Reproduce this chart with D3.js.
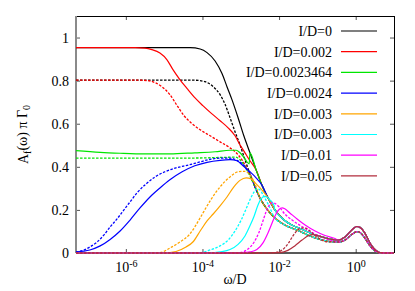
<!DOCTYPE html>
<html>
<head>
<meta charset="utf-8">
<script src="https://cdn.jsdelivr.net/npm/d3@7"></script>
<style>
  body { margin: 0; background: #fff; }
  svg text { font-family: "Liberation Serif", "DejaVu Serif", serif; fill: #000; }
  .tick line { stroke: #555; }
</style>
</head>
<body>
<div id="chart"></div>
<script>
// Data: [log10(omega/D), A_f(omega) pi Gamma_0]
const blackSolid = [[-7.30,0.953],[-4.32,0.953],[-4.06,0.947],[-3.88,0.930],[-3.67,0.891],[-3.49,0.833],[-3.36,0.772],[-3.23,0.712],[-3.07,0.628],[-2.92,0.544],[-2.76,0.465],[-2.60,0.386],[-2.45,0.316],[-2.29,0.256],[-2.11,0.200],[-1.90,0.158],[-1.67,0.130],[-1.45,0.114],[-1.19,0.093],[-0.93,0.077],[-0.67,0.065],[-0.46,0.060],[-0.28,0.074],[-0.15,0.098],[-0.045,0.116],[0.03,0.123],[0.11,0.119],[0.22,0.098],[0.32,0.065],[0.42,0.033],[0.53,0.012],[0.63,0.002],[0.76,0],[1.0,0]];
const blackDashed = [[-7.30,0.802],[-4.20,0.802],[-3.93,0.795],[-3.72,0.772],[-3.54,0.735],[-3.41,0.690],[-3.28,0.628],[-3.15,0.563],[-3.02,0.502],[-2.89,0.433],[-2.76,0.367],[-2.63,0.307],[-2.50,0.256],[-2.32,0.205],[-2.11,0.163],[-1.85,0.130],[-1.54,0.107],[-1.19,0.079],[-0.93,0.063],[-0.67,0.053],[-0.46,0.051],[-0.28,0.060],[-0.15,0.079],[-0.045,0.093],[0.03,0.099],[0.11,0.095],[0.22,0.074],[0.32,0.047],[0.42,0.023],[0.53,0.007],[0.63,0.001],[0.76,0],[1.0,0]];

const redSolid = [[-7.30,0.953],[-5.76,0.953],[-5.50,0.951],[-5.32,0.944],[-5.11,0.928],[-4.93,0.898],[-4.77,0.851],[-4.59,0.805],[-4.40,0.763],[-4.20,0.721],[-3.99,0.684],[-3.76,0.647],[-3.54,0.614],[-3.33,0.581],[-3.15,0.544],[-3.02,0.502],[-2.89,0.465],[-2.76,0.428]];
const redDashed = [[-7.30,0.802],[-5.63,0.802],[-5.42,0.800],[-5.24,0.791],[-5.06,0.772],[-4.85,0.735],[-4.66,0.684],[-4.48,0.637],[-4.27,0.600],[-4.06,0.572],[-3.80,0.544],[-3.54,0.516],[-3.28,0.488],[-3.07,0.456],[-2.89,0.409],[-2.76,0.363]];

const greenSolid = [[-7.30,0.475],[-6.67,0.467],[-6.15,0.463],[-5.50,0.460],[-4.85,0.460],[-4.20,0.465],[-3.67,0.470],[-3.28,0.477],[-3.12,0.477],[-3.02,0.465],[-2.91,0.442],[-2.78,0.414]];
const greenDashed = [[-7.30,0.440],[-5.37,0.440],[-4.06,0.441],[-3.41,0.444],[-3.15,0.445],[-3.02,0.433],[-2.89,0.400],[-2.76,0.358]];

const blueSolid = [[-7.30,0.005],[-6.94,0.014],[-6.67,0.033],[-6.41,0.063],[-6.15,0.102],[-5.89,0.153],[-5.63,0.209],[-5.37,0.260],[-5.11,0.302],[-4.85,0.340],[-4.53,0.377],[-4.20,0.405],[-3.88,0.421],[-3.54,0.430],[-3.28,0.433],[-3.10,0.428],[-2.94,0.405],[-2.76,0.377],[-2.60,0.349],[-2.45,0.316]];
const blueDashed = [[-7.30,0.005],[-7.12,0.012],[-6.94,0.028],[-6.75,0.051],[-6.57,0.084],[-6.41,0.121],[-6.23,0.158],[-6.05,0.200],[-5.89,0.237],[-5.71,0.279],[-5.50,0.316],[-5.24,0.353],[-4.98,0.377],[-4.69,0.395],[-4.35,0.409],[-4.06,0.423],[-3.80,0.435],[-3.54,0.440],[-3.28,0.440],[-3.10,0.430],[-2.91,0.405],[-2.84,0.386]];

const orangeSolid = [[-7.30,0],[-5.00,0],[-4.69,0.007],[-4.43,0.028],[-4.25,0.051],[-4.06,0.102],[-3.88,0.149],[-3.72,0.181],[-3.54,0.219],[-3.36,0.260],[-3.18,0.307],[-3.02,0.337],[-2.86,0.349],[-2.73,0.344],[-2.60,0.321],[-2.45,0.293]];
const orangeDashed = [[-7.30,0],[-5.37,0],[-5.11,0.002],[-4.85,0.023],[-4.59,0.051],[-4.33,0.088],[-4.20,0.121],[-4.06,0.163],[-3.80,0.242],[-3.54,0.307],[-3.28,0.353],[-3.07,0.377],[-2.91,0.379],[-2.78,0.367],[-2.68,0.340],[-2.60,0.307]];

const cyanSolid = [[-7.30,0],[-3.80,0],[-3.54,0.005],[-3.28,0.016],[-3.07,0.040],[-2.89,0.079],[-2.76,0.126],[-2.65,0.172],[-2.55,0.223],[-2.47,0.251],[-2.39,0.263],[-2.32,0.260],[-2.24,0.247],[-2.13,0.219]];
const cyanDashed = [[-7.30,0],[-4.06,0.002],[-3.80,0.014],[-3.54,0.033],[-3.33,0.060],[-3.15,0.102],[-2.99,0.153],[-2.86,0.205],[-2.76,0.247],[-2.65,0.284],[-2.58,0.298],[-2.50,0.293],[-2.42,0.270],[-2.29,0.228]];

const magentaSolid = [[-7.30,0],[-3.02,0],[-2.76,0.005],[-2.58,0.016],[-2.42,0.047],[-2.29,0.093],[-2.18,0.140],[-2.08,0.181],[-2.00,0.202],[-1.92,0.209],[-1.85,0.205],[-1.72,0.186],[-1.53,0.158],[-1.32,0.130],[-1.06,0.102],[-0.80,0.081],[-0.54,0.067]];
const magentaDashed = [[-7.30,0],[-3.28,0],[-3.02,0.002],[-2.81,0.019],[-2.65,0.051],[-2.52,0.098],[-2.42,0.149],[-2.34,0.191],[-2.26,0.221],[-2.18,0.233],[-2.11,0.230],[-2.00,0.214],[-1.85,0.181],[-1.66,0.153],[-1.45,0.128],[-1.19,0.100],[-0.93,0.077],[-0.67,0.060]];

const brownSolid = [[-7.30,0],[-2.37,0],[-1.98,0.002],[-1.77,0.012],[-1.59,0.033],[-1.40,0.060],[-1.25,0.079],[-1.12,0.085],[-0.99,0.081],[-0.83,0.072],[-0.67,0.065]];
const brownDashed = [[-7.30,0],[-2.50,0],[-2.11,0.002],[-1.92,0.014],[-1.77,0.042],[-1.64,0.079],[-1.51,0.107],[-1.40,0.116],[-1.30,0.115],[-1.19,0.102],[-1.06,0.081],[-0.93,0.065],[-0.72,0.051]];

const labels = ["I/D=0", "I/D=0.002", "I/D=0.0023464", "I/D=0.0024", "I/D=0.003", "I/D=0.003", "I/D=0.01", "I/D=0.05"];
const colors = ["#000000", "#ff0000", "#00e600", "#0000ff", "#ffa500", "#00ffff", "#ff00ff", "#b22d3c"];
const xTicks = [1e-6, 1e-4, 1e-2, 1];
const yTicks = [0, 0.2, 0.4, 0.6, 0.8, 1];

const serif = "'Liberation Serif', 'DejaVu Serif', serif";

// the curves merge into the I/D=0 ones at high frequency
function joinTail(own, base) {
    var last = own[own.length - 1][0];
    return own.concat(base.filter(function(p) { return p[0] > last; }));
}
const solids = [blackSolid, joinTail(redSolid, blackSolid), joinTail(greenSolid, blackSolid),
    joinTail(blueSolid, blackSolid), joinTail(orangeSolid, blackSolid), joinTail(cyanSolid, blackSolid),
    joinTail(magentaSolid, blackSolid), joinTail(brownSolid, blackSolid)];
const dashes = [blackDashed, joinTail(redDashed, blackDashed), joinTail(greenDashed, blackDashed),
    joinTail(blueDashed, blackDashed), joinTail(orangeDashed, blackDashed), joinTail(cyanDashed, blackDashed),
    joinTail(magentaDashed, blackDashed), joinTail(brownDashed, blackDashed)];

const W = 415, H = 291,
    margin = {top: 16, right: 21, bottom: 38, left: 76},
    width = W - margin.left - margin.right,
    height = H - margin.top - margin.bottom;

var x = d3.scaleLog().domain([5e-8, 10]).range([0, width]);
var y = d3.scaleLinear().domain([0, 1.1]).range([height, 0]);

var svg = d3.select("#chart").append("svg")
    .attr("width", W).attr("height", H)
  .append("g")
    .attr("transform", "translate(" + margin.left + "," + margin.top + ")")
    .attr("font-family", serif);

svg.append("defs").append("clipPath").attr("id", "clip")
  .append("rect").attr("width", width).attr("height", height + 1);

// Axes (ticks drawn inward on all four sides)
var xAxis = d3.axisBottom(x).tickValues(xTicks).tickSizeInner(-4).tickSizeOuter(0).tickPadding(9);
var gx = svg.append("g").attr("transform", "translate(0," + height + ")").call(xAxis)
    .attr("font-family", serif).attr("font-size", 14);
gx.select(".domain").remove();
gx.selectAll(".tick text").each(function(d) {
    var t = d3.select(this).text(null);
    t.append("tspan").text("10");
    t.append("tspan").attr("dy", "-0.45em").attr("font-size", 10).text(Math.round(Math.log10(d)));
});
var gt = svg.append("g").call(d3.axisTop(x).tickValues(xTicks).tickSizeInner(-4).tickSizeOuter(0).tickFormat(""));
gt.select(".domain").remove();

var gy = svg.append("g").call(d3.axisLeft(y).tickValues(yTicks).tickSizeInner(-4).tickSizeOuter(0).tickPadding(7)
    .tickFormat(function(d) { return String(d); }))
    .attr("font-family", serif).attr("font-size", 14);
gy.select(".domain").remove();
var gr = svg.append("g").attr("transform", "translate(" + width + ",0)")
    .call(d3.axisRight(y).tickValues(yTicks).tickSizeInner(-4).tickSizeOuter(0).tickFormat(""));
gr.select(".domain").remove();

// Frame
svg.append("line").attr("x1", 0).attr("x2", width).attr("y1", 0.5).attr("y2", 0.5).attr("stroke", "#000");
svg.append("line").attr("x1", width + 0.5).attr("x2", width + 0.5).attr("y1", 0).attr("y2", height).attr("stroke", "#000");
svg.append("line").attr("x1", 0).attr("x2", width).attr("y1", height).attr("y2", height).attr("stroke", "#222").attr("stroke-width", 1.5);
svg.append("line").attr("x1", 0).attr("x2", 0).attr("y1", 0).attr("y2", height).attr("stroke", "#8a8a8a").attr("stroke-width", 2);

// Curves
var line = d3.line()
    .curve(d3.curveMonotoneX)
    .x(function(d) { return x(Math.pow(10, d[0])); })
    .y(function(d) { return y(d[1]); });

var plot = svg.append("g").attr("clip-path", "url(#clip)");
solids.forEach(function(s, i) {
    plot.append("path").datum(s)
        .attr("fill", "none").attr("stroke", colors[i]).attr("stroke-width", 1.2)
        .attr("d", line);
    plot.append("path").datum(dashes[i])
        .attr("fill", "none").attr("stroke", colors[i]).attr("stroke-width", 1.3)
        .attr("stroke-dasharray", "2.5,1.5")
        .attr("d", line);
});

// Legend
var legend = svg.selectAll(".legend")
    .data(labels)
    .enter().append("g")
    .attr("class", "legend")
    .attr("transform", function(d, i) { return "translate(0," + (15 + i * 20.7) + ")"; });
legend.append("text")
    .attr("x", 256).attr("dy", "0.35em")
    .attr("text-anchor", "end")
    .attr("font-size", 14)
    .text(function(d) { return d; });
legend.append("line")
    .attr("x1", 265).attr("x2", 301)
    .attr("stroke", function(d, i) { return colors[i]; })
    .attr("stroke-width", 1.2);

// Axis titles
svg.append("text")
    .attr("x", width / 2).attr("y", height + 31)
    .attr("text-anchor", "middle").attr("font-size", 14)
    .text("ω/D");
var yl = svg.append("text")
    .attr("transform", "translate(" + (-48) + "," + (height / 2) + ") rotate(-90)")
    .attr("text-anchor", "middle").attr("font-size", 14);
yl.append("tspan").text("A");
yl.append("tspan").attr("dy", "0.3em").attr("font-size", 10).text("f");
yl.append("tspan").attr("dy", "-0.3em").text("(ω) π Γ");
yl.append("tspan").attr("dy", "0.3em").attr("font-size", 10).text("0");
</script>
</body>
</html>
